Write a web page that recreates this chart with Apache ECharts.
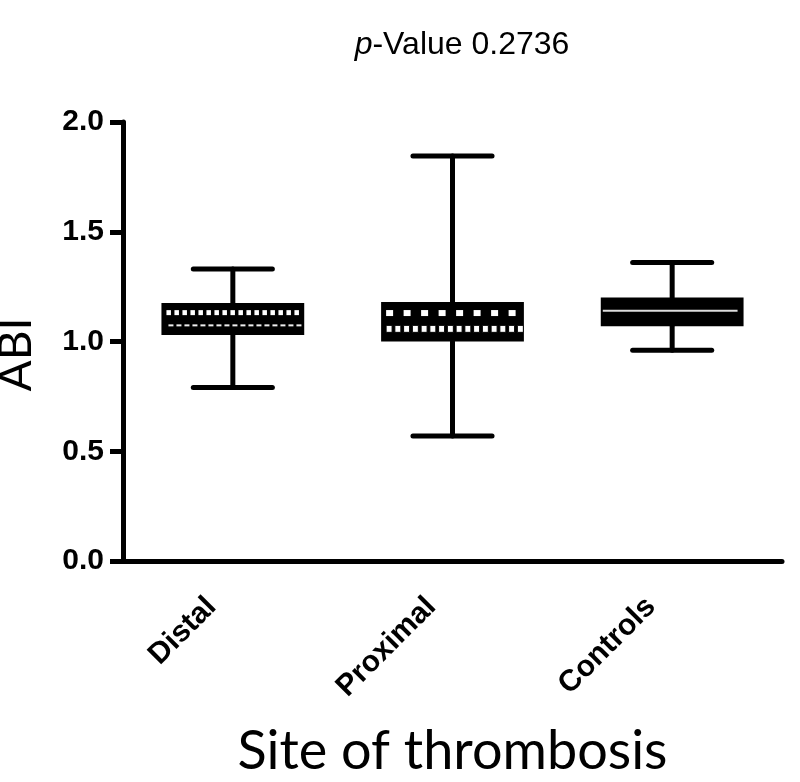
<!DOCTYPE html>
<html>
<head>
<meta charset="utf-8">
<script src="https://cdn.jsdelivr.net/npm/echarts@6/dist/echarts.min.js"></script>
<style>
  html, body { margin: 0; padding: 0; background: #fff; }
  #main { width: 800px; height: 782px; }
</style>
</head>
<body>
<div id="main"></div>
<script>
var categories = ['Distal', 'Proximal', 'Controls'];
var mins    = [0.79, 0.57, 0.96];
var q1s     = [1.03, 1.00, 1.07];
var medians = [1.09, 1.09, 1.14];
var q3s     = [1.175, 1.18, 1.20];
var maxs    = [1.33, 1.845, 1.36];
var yTicks  = [0, 0.5, 1.0, 1.5, 2.0];

var fills = ['dots', 'checker', 'solid'];

var boxData = categories.map(function (c, i) {
    return [i, mins[i], q1s[i], medians[i], q3s[i], maxs[i]];
});

var myChart = echarts.init(document.getElementById('main'));

function renderBox(params, api) {
    var i = api.value(0);
    var pMin = api.coord([i, api.value(1)]);
    var pQ1 = api.coord([i, api.value(2)]);
    var pMed = api.coord([i, api.value(3)]);
    var pQ3 = api.coord([i, api.value(4)]);
    var pMax = api.coord([i, api.value(5)]);
    var band = api.size([1, 0])[0];
    var bx = pQ1[0];
    var half = band * 0.325;
    var cap = band * 0.18;
    var lw = 5;
    var lineStyle = { stroke: '#000', lineWidth: lw, lineCap: 'round' };
    var kids = [
        { type: 'line', shape: { x1: bx, y1: pMax[1], x2: bx, y2: pQ3[1] }, style: lineStyle },
        { type: 'line', shape: { x1: bx, y1: pQ1[1], x2: bx, y2: pMin[1] }, style: lineStyle },
        { type: 'line', shape: { x1: bx - cap, y1: pMax[1], x2: bx + cap, y2: pMax[1] }, style: lineStyle },
        { type: 'line', shape: { x1: bx - cap, y1: pMin[1], x2: bx + cap, y2: pMin[1] }, style: lineStyle },
        { type: 'rect', shape: { x: bx - half, y: pQ3[1], width: half * 2, height: pQ1[1] - pQ3[1] }, style: { fill: '#000' } }
    ];
    var top = pQ3[1], h = pQ1[1] - pQ3[1];
    var x0 = bx - half + 5, x1 = bx + half - 6;
    var x;
    if (fills[i] === 'dots') {
        var yA = top + h * 0.3;
        var yB = top + h * 0.7;
        for (x = x0; x < x1; x += 8) {
            kids.push({ type: 'rect', shape: { x: x, y: yA - 2.5, width: 4.5, height: 5 }, style: { fill: '#fff' } });
            kids.push({ type: 'rect', shape: { x: x + 2, y: yB - 1, width: 5, height: 2 }, style: { fill: '#eee' } });
        }
    } else if (fills[i] === 'checker') {
        var yC = top + h * 0.28;
        var yD = top + h * 0.68;
        for (x = x0; x < x1; x += 17.5) {
            kids.push({ type: 'rect', shape: { x: x, y: yC - 3, width: 7, height: 6 }, style: { fill: '#fff' } });
        }
        for (x = x0; x < x1; x += 8.75) {
            kids.push({ type: 'rect', shape: { x: x, y: yD - 3.5, width: 6, height: 7 }, style: { fill: '#fff', stroke: '#000', lineWidth: 1 } });
        }
    } else {
        kids.push({ type: 'line', shape: { x1: bx - half + 2, y1: pMed[1], x2: bx + half - 6, y2: pMed[1] }, style: { stroke: '#ddd', lineWidth: 2 } });
    }
    return { type: 'group', children: kids };
}

var option = {
    backgroundColor: '#fff',
    animation: false,
    title: {
        text: '{it|p}-Value 0.2736',
        left: 457,
        textAlign: 'center',
        top: 24,
        textStyle: {
            fontFamily: 'Arial, Liberation Sans',
            fontSize: 32,
            fontWeight: 'normal',
            color: '#000',
            rich: {
                it: { fontStyle: 'italic', fontFamily: 'Arial, Liberation Sans', fontSize: 32, color: '#000' }
            }
        }
    },
    grid: {
        left: 123,
        right: 18,
        top: 122,
        bottom: 221,
        outerBoundsMode: 'none'
    },
    xAxis: {
        type: 'category',
        data: categories,
        name: 'Site of thrombosis',
        nameLocation: 'middle',
        nameGap: 164,
        nameTextStyle: { fontFamily: 'Lato, Open Sans', fontSize: 54, color: '#000' },
        axisLine: { lineStyle: { color: '#000', width: 5 } },
        axisTick: { alignWithLabel: true, length: 11, lineStyle: { color: '#000', width: 5 } },
        axisLabel: {
            rotate: 45,
            margin: 20,
            padding: [0, 30, 0, 0],
            color: '#000',
            fontFamily: 'Arial, Liberation Sans',
            fontWeight: 'bold',
            fontSize: 30
        },
        splitLine: { show: false }
    },
    yAxis: {
        type: 'value',
        min: 0,
        max: 2,
        interval: 0.5,
        name: 'ABI',
        nameLocation: 'middle',
        nameGap: 84,
        nameTextStyle: { fontFamily: 'Lato, Open Sans', fontSize: 46, color: '#000', padding: [0, 26, 0, 0] },
        axisLine: { show: true, lineStyle: { color: '#000', width: 5 } },
        axisTick: { show: true, length: 13, lineStyle: { color: '#000', width: 5 } },
        axisLabel: {
            margin: 19,
            color: '#000',
            fontFamily: 'Arial, Liberation Sans',
            fontWeight: 'bold',
            fontSize: 30,
            formatter: function (v) { return yTicks.indexOf(v) >= 0 ? v.toFixed(1) : ''; }
        },
        splitLine: { show: false }
    },
    series: [{
        type: 'custom',
        renderItem: renderBox,
        encode: { x: 0, y: [1, 2, 3, 4, 5] },
        data: boxData
    }]
};

myChart.setOption(option);
</script>
</body>
</html>
